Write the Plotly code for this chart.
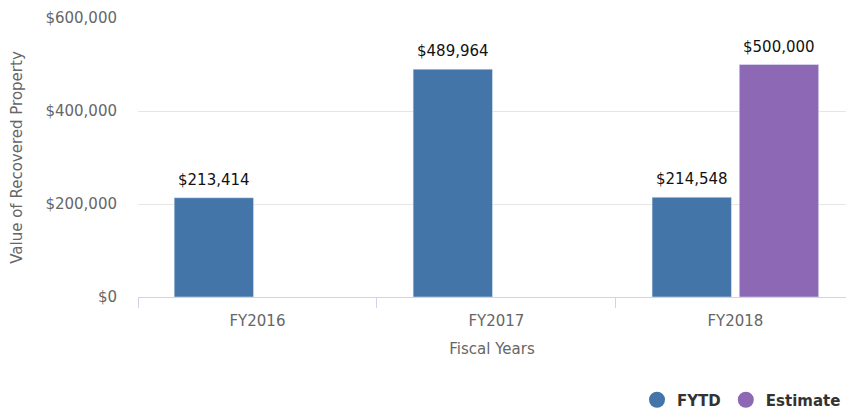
import plotly.graph_objects as go

categories = ["FY2016", "FY2017", "FY2018"]
fytd = [213414, 489964, 214548]
estimate = [None, None, 500000]
y_ticks = [0, 200000, 400000, 600000]
y_tick_labels = ["$0", "$200,000", "$400,000", "$600,000"]

BLUE = "#4375a8"
PURPLE = "#8c68b5"
FONT = "DejaVu Sans"

W, H = 846, 410
ML, MR, MT, MB = 138, 0, 18, 113
BARGAP, GROUPGAP = 0.27, 0.09
X_RANGE = [-0.5, 2.463]   # right part of the last category is cropped, as in the reference

def fmt(v):
    return "${:,}".format(v)

fig = go.Figure()
fig.add_trace(go.Bar(
    x=categories, y=fytd, name="FYTD", marker_color=BLUE,
    showlegend=False, hoverinfo="skip",
))
fig.add_trace(go.Bar(
    x=categories, y=estimate, name="Estimate", marker_color=PURPLE,
    showlegend=False, hoverinfo="skip",
))
# legend entries with circular symbols
for name, col in [("FYTD", BLUE), ("Estimate", PURPLE)]:
    fig.add_trace(go.Scatter(
        x=[None], y=[None], mode="markers", name=name,
        marker=dict(color=col, size=16, symbol="circle"),
    ))

# data labels above bars (offset to each bar's slot within the group)
cat_px = (W - ML - MR) / (X_RANGE[1] - X_RANGE[0])
slot_px = cat_px * (1 - BARGAP) / 2
for series, sign in [(fytd, -1), (estimate, 1)]:
    for cat, v in zip(categories, series):
        if v is None:
            continue
        fig.add_annotation(
            x=cat, y=v, text=fmt(v), showarrow=False,
            xanchor="center", yanchor="middle",
            xshift=sign * slot_px / 2, yshift=18,
            font=dict(family=FONT, size=15, color="#111111"),
        )

fig.update_layout(
    width=W, height=H,
    margin=dict(l=ML, r=MR, t=MT, b=MB, autoexpand=False),
    paper_bgcolor="white", plot_bgcolor="white",
    barmode="group", bargap=BARGAP, bargroupgap=GROUPGAP,
    font=dict(family=FONT, size=15, color="#666666"),
    showlegend=True,
    legend=dict(
        orientation="h", xanchor="right", x=1.0,
        yanchor="middle", y=-103 / (H - MT - MB),
        font=dict(family=FONT, size=15, color="#333333", weight="bold"),
        traceorder="normal", bgcolor="rgba(0,0,0,0)",
    ),
    xaxis=dict(
        type="category", categoryorder="array", categoryarray=categories,
        range=X_RANGE,
        automargin=False,
        showline=True, linecolor="#ccd6eb", linewidth=1,
        ticks="outside", tickson="boundaries", ticklen=10, tickcolor="#ccd6eb",
        tickfont=dict(size=15, color="#666666"),
        ticklabelstandoff=10,
        title=dict(text="Fiscal Years", font=dict(size=15, color="#666666"), standoff=14),
        showgrid=False,
    ),
    yaxis=dict(
        range=[0, 600000], tickvals=y_ticks, ticktext=y_tick_labels,
        automargin=False,
        showgrid=True, gridcolor="#e6e6e6", gridwidth=1,
        zeroline=False, showline=False,
        tickfont=dict(size=15, color="#666666"),
        ticklabelstandoff=20,
        title=dict(text="Value of Recovered Property", font=dict(size=15, color="#666666"), standoff=19),
    ),
)

fig.write_html("out.html", config={"displayModeBar": False},
               post_script="document.body.style.margin='0';")
